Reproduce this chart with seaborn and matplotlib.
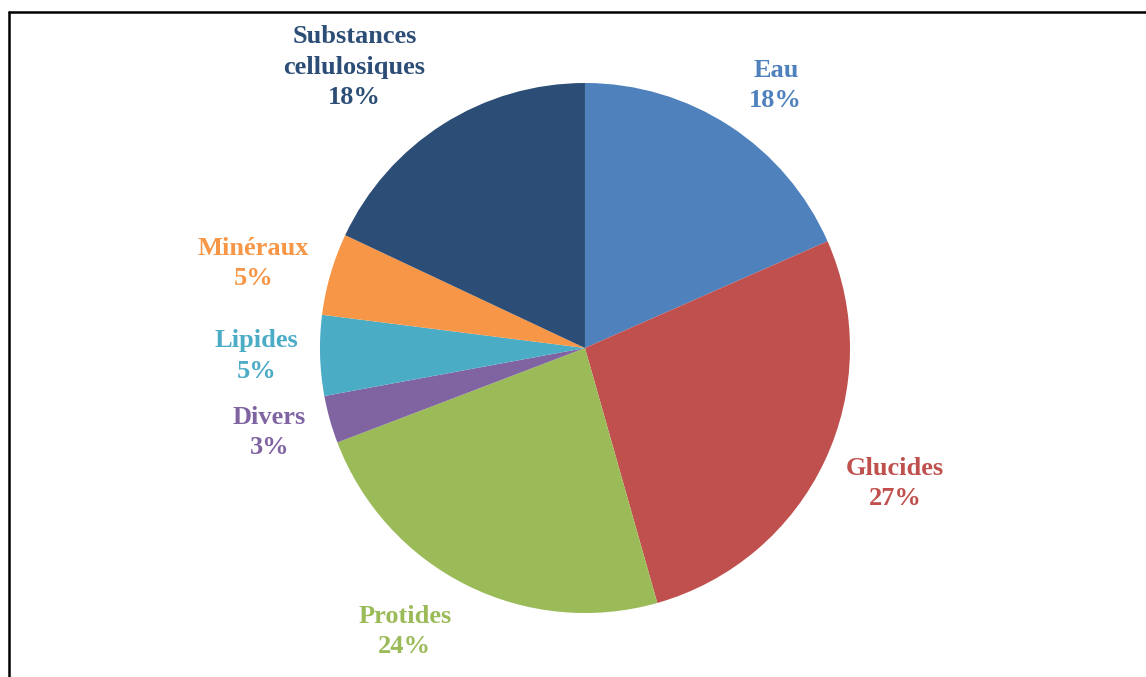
import matplotlib
matplotlib.use("Agg")
import matplotlib.pyplot as plt
from matplotlib.lines import Line2D
import seaborn as sns

categories = ['Eau', 'Glucides', 'Protides', 'Divers', 'Lipides', 'Minéraux',
              'Substances\ncellulosiques']
shares = [18.4, 27.2, 23.6, 2.9, 4.9, 5.0, 18.0]
colors = ['#4F81BD', '#C0504D', '#9BBB59', '#8064A2', '#4BACC6', '#F79646', '#2C4D75']

# label centres in pie units (radius = 1), placed as in the original
label_pos = [(0.72, 0.99), (1.17, -0.51), (-0.68, -1.07), (-1.19, -0.32),
             (-1.24, -0.03), (-1.25, 0.32), (-0.87, 1.06)]

sns.set_theme(style="white")
plt.rcParams['font.family'] = ['Liberation Serif', 'DejaVu Serif']

fig = plt.figure(figsize=(11.46, 6.77), dpi=100)
ax = fig.add_axes([0.2792, 0.0945, 0.4625, 0.7829])

wedges, _ = ax.pie(shares, colors=colors, startangle=90, counterclock=False,
                   radius=1, wedgeprops={'linewidth': 0})
ax.set_xlim(-1, 1)
ax.set_ylim(-1, 1)
ax.set_aspect('equal')
ax.axis('off')

for name, val, col, (x, y) in zip(categories, shares, colors, label_pos):
    ax.text(x, y, f"{name}\n{round(val)}%", color=col, ha='center', va='center',
            fontsize=19, fontweight='bold', linespacing=1.4, clip_on=False)

# frame around the chart (left and top edges visible)
x0 = 9 / 1146
y0 = 1 - 12 / 677
fig.add_artist(Line2D([x0, x0], [0, y0], color='black', lw=1.8, transform=fig.transFigure))
fig.add_artist(Line2D([x0, 1], [y0, y0], color='black', lw=1.8, transform=fig.transFigure))

fig.savefig("out.png", dpi=100)
